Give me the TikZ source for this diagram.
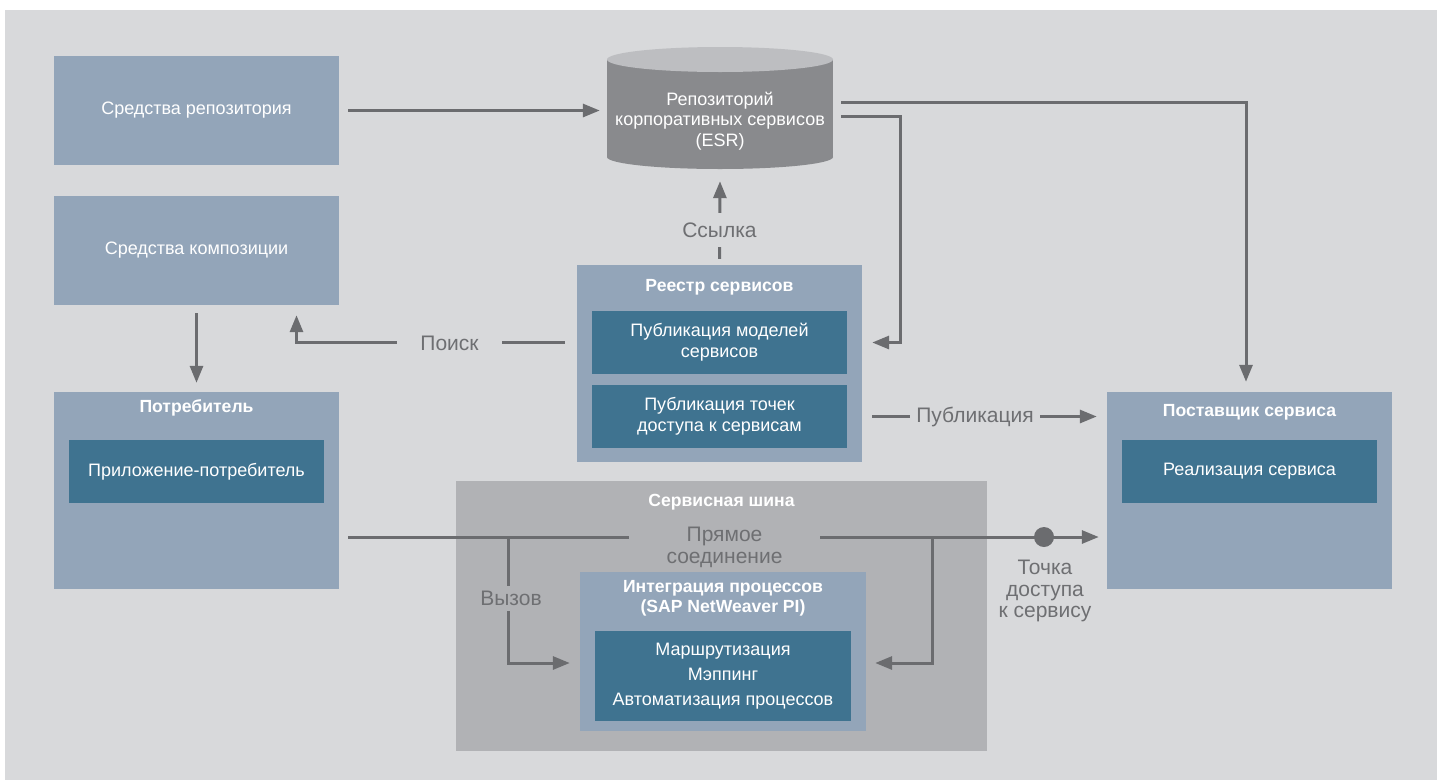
\documentclass[tikz,border=0pt]{standalone}
\usepackage{fontspec}
\setmainfont{Liberation Sans}
\usetikzlibrary{arrows.meta,shapes.geometric}
\definecolor{bgc}{HTML}{D8D9DB}
\definecolor{lboxc}{HTML}{93A5B9}
\definecolor{dboxc}{HTML}{3F7390}
\definecolor{busc}{HTML}{B1B2B5}
\definecolor{cylc}{HTML}{898A8D}
\definecolor{cyltop}{HTML}{BDBEC1}
\definecolor{linec}{HTML}{6B6C6F}
\definecolor{labc}{HTML}{6E6F72}
\begin{document}
\begin{tikzpicture}[x=1pt,y=-1pt,
  lbox/.style={fill=lboxc, inner sep=0pt, text=white, align=center, font=\fontsize{18}{21}\selectfont},
  dbox/.style={fill=dboxc, inner sep=0pt, text=white, align=center, font=\fontsize{18}{21}\selectfont},
  ttl/.style={text=white, inner sep=0pt, align=center, font=\bfseries\fontsize{17.6}{20}\selectfont},
  lab/.style={text=labc, align=center, font=\fontsize{21}{21.5}\selectfont},
  arr/.style={draw=linec, line width=3pt, -{Triangle[length=17pt,width=13pt]}},
  ln/.style={draw=linec, line width=3pt}]
\useasboundingbox (0,0) rectangle (1443,780);
\fill[bgc] (5,10) rectangle (1437,780);

% left column
\node[lbox, minimum width=285pt, minimum height=109pt] (rt) at (196.5,110.5) {Средства репозитория};
\node[lbox, minimum width=285pt, minimum height=109pt] (comp) at (196.5,250.5) {Средства композиции};
\node[lbox, minimum width=285pt, minimum height=197pt] (cons) at (196.5,490.5) {};
\node[ttl] (const) at (196.5,408) {Потребитель};
\node[dbox, minimum width=255pt, minimum height=63pt] (app) at (196.5,471.5) {Приложение-потребитель};

% cylinder
\fill[cylc] (607,59.5) rectangle (833,157);
\fill[cylc] (720,157) ellipse [x radius=113pt, y radius=12pt];
\fill[cyltop] (720,59.5) ellipse [x radius=113pt, y radius=12.5pt];
\node[inner sep=0pt, minimum width=226pt, minimum height=122pt] (esr) at (720,108) {};
\node[text=white, align=center, font=\fontsize{18}{20.5}\selectfont] (esrt) at (720,121) {Репозиторий\\корпоративных сервисов\\(ESR)};

% registry
\node[lbox, minimum width=285pt, minimum height=197pt] (reg) at (719.5,363.5) {};
\node[ttl] (regt) at (719.5,287) {Реестр сервисов};
\node[dbox, minimum width=255pt, minimum height=63pt] (pm) at (719.5,342.5) {Публикация моделей\\сервисов};
\node[dbox, minimum width=255pt, minimum height=63pt] (pa) at (719.5,416.5) {Публикация точек\\доступа к сервисам};

% provider
\node[lbox, minimum width=285pt, minimum height=197pt] (prov) at (1249.5,490.5) {};
\node[ttl] (provt) at (1249.5,412) {Поставщик сервиса};
\node[dbox, minimum width=255pt, minimum height=63pt] (impl) at (1249.5,471.5) {Реализация сервиса};

% service bus
\node[fill=busc, inner sep=0pt, minimum width=531pt, minimum height=270pt] (bus) at (721.5,616) {};
\node[ttl] (bust) at (721.5,502) {Сервисная шина};
\node[lbox, minimum width=286pt, minimum height=159pt] (integ) at (723,651.5) {};
\node[ttl] (integt) at (723,598) {Интеграция процессов\\(SAP NetWeaver PI)};
\node[dbox, minimum width=256pt, minimum height=90pt, font=\fontsize{18}{25}\selectfont] (inner) at (723,676) {Маршрутизация\\Мэппинг\\Автоматизация процессов};

% connectors
\draw[arr] ([xshift=9pt]rt.east) -- ([xshift=-7pt]rt.east -| esr.west);
\draw[arr] ([yshift=-8pt]comp.south) -- ([yshift=9pt]cons.north);
\draw[arr] ([xshift=-12pt]pm.west -| reg.west) -| ([xshift=100pt,yshift=-10pt]comp.south);
\node[lab, fill=bgc, minimum width=105pt, inner sep=0pt, minimum height=10pt] (poisk) at (449.5,343) {Поиск};
\draw[arr] ([yshift=6pt]reg.north) -- ([yshift=-12pt]esr.south);
\node[lab, fill=bgc, minimum height=34pt, inner sep=0pt] (ssylka) at (719.5,230) {Ссылка};
\draw[arr] ([xshift=8pt,yshift=6pt]esr.east) -| ([xshift=-3.5pt,yshift=10pt]prov.north);
\draw[arr] ([xshift=8pt,yshift=-8pt]esr.east) -| ([xshift=38pt]pm.east -| reg.east) -- ([xshift=10pt]pm.east -| reg.east);
\draw[arr] ([xshift=10pt]pa.east -| reg.east) -- ([xshift=-10pt]pa.east -| prov.west);
\node[lab, fill=bgc, minimum width=130pt, inner sep=0pt, minimum height=10pt] (publ) at (975,416.5) {Публикация};

\coordinate (apc) at (1044,537);
\coordinate (jl) at (508,537);
\coordinate (jr) at (932,537);
\draw[arr] ([xshift=9pt]cons.east |- apc) -- ([xshift=-8pt]prov.west |- apc);
\draw[arr] (jl) |- ([xshift=-10pt]integ.west |- 0,663);
\draw[arr] (jr) |- ([xshift=9pt]integ.east |- 0,663);
\node[lab, fill=busc, minimum width=191pt, inner sep=0pt, anchor=north] (direct) at (724.5,527) {Прямое\\соединение};
\node[lab, fill=busc, minimum height=25pt, inner sep=1pt] (vyzov) at (511,598) {Вызов};
\node[circle, fill=linec, minimum size=20pt, inner sep=0pt] (ap) at (apc) {};
\node[lab, anchor=north] (apt) at (1045,557) {Точка\\доступа\\к сервису};
\end{tikzpicture}
\end{document}
